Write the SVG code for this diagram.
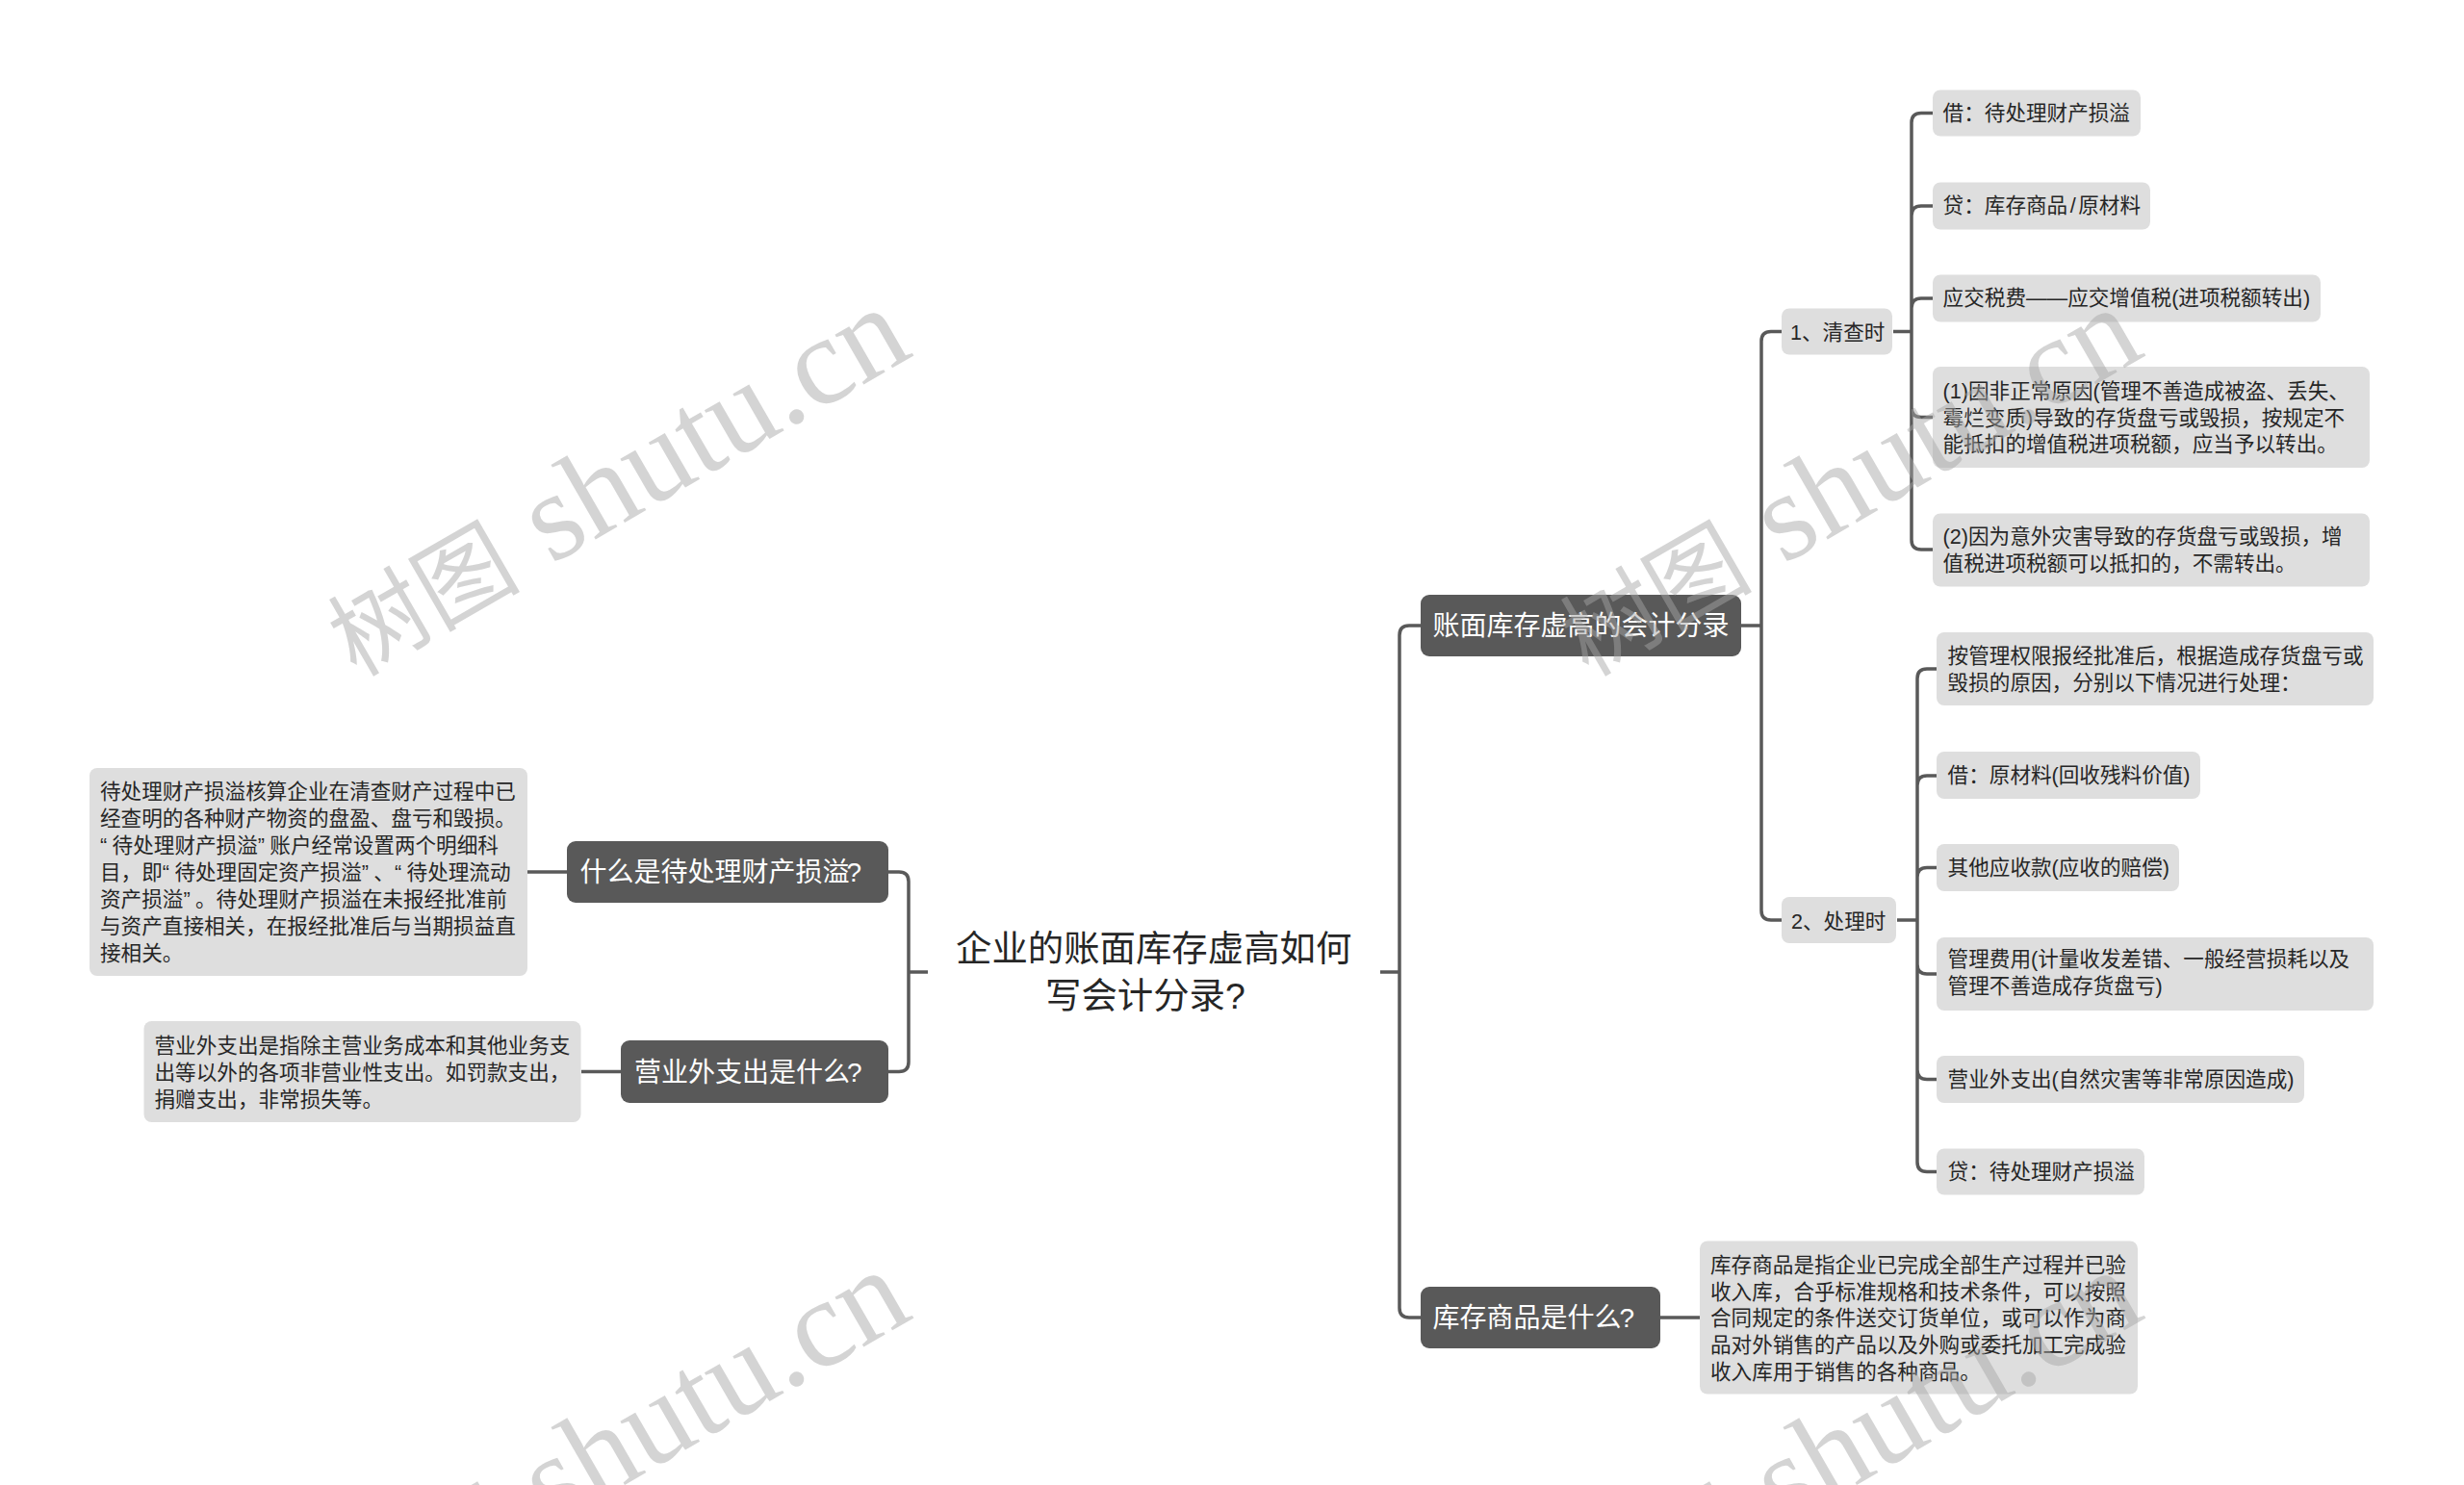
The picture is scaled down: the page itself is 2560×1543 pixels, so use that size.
<svg xmlns="http://www.w3.org/2000/svg" width="2560" height="1543" viewBox="0 0 2560 1543">
<style>
text{font-family:"Liberation Sans","Noto Sans CJK SC",sans-serif}
.leaf rect{fill:#dedede}
.topic rect{fill:#595959}
.leaf text{font-size:21.6px;fill:#262626;transform:translateY(-1px)}
.topic text{font-size:28px;fill:#fff}
.root text{font-size:37.4px;fill:#262626}
.q{letter-spacing:5.4px}
#connectors path{fill:none;stroke:#595959;stroke-width:3.5}
.wm{font-family:"Liberation Serif","Noto Sans CJK SC",serif;font-size:130px;fill:#a6a6a6;fill-opacity:.48}
.wm .c{font-size:100px}
</style>
<rect width="2560" height="1543" fill="#fff"/>
<g id="connectors">
<path d="M1434 1010H1454M1476 650H1464Q1454 650 1454 660V1359Q1454 1369 1464 1369H1476"/>
<path d="M1809 650H1830M1851 344.5H1840Q1830 344.5 1830 354.5V946Q1830 956 1840 956H1851"/>
<path d="M1967 344.5H1986M2008 117.5H1996Q1986 117.5 1986 127.5V561Q1986 571 1996 571H2008M2008 214H1996Q1986 214 1986 224M2008 310H1996Q1986 310 1986 320M2008 433.5H1996Q1986 433.5 1986 423.5"/>
<path d="M1971 956H1992M2012 695H2002Q1992 695 1992 705V1207.5Q1992 1217.5 2002 1217.5H2012M2012 806H2002Q1992 806 1992 816M2012 901.5H2002Q1992 901.5 1992 911.5M2012 1012H2002Q1992 1012 1992 1002M2012 1121.5H2002Q1992 1121.5 1992 1111.5"/>
<path d="M1725 1369H1766"/>
<path d="M589 906H548M645 1113.5H604"/>
<path d="M964 1010H944M923 906H934Q944 906 944 916V1103.5Q944 1113.5 934 1113.5H923"/>
</g>
<g id="root" class="root"><text x="993" y="999">企业的账面库存虚高如何</text><text x="1086" y="1048">写会计分录?</text></g>
<g id="n1" class="topic"><rect x="1476" y="618" width="333" height="64" rx="9"/><text x="1488.6" y="660">账面库存虚高的会计分录</text></g>
<g id="n2" class="topic"><rect x="1476" y="1337" width="249" height="64" rx="9"/><text x="1488.6" y="1379">库存商品是什么<tspan dx="-2">?</tspan></text></g>
<g id="n3" class="topic"><rect x="589" y="874" width="334" height="64" rx="9"/><text x="602.6" y="916">什么是待处理财产损溢<tspan dx="-3">?</tspan></text></g>
<g id="n4" class="topic"><rect x="645" y="1081" width="278" height="65" rx="9"/><text x="659" y="1123.5">营业外支出是什么<tspan dx="-3">?</tspan></text></g>
<g id="n5" class="leaf"><rect x="1851" y="320.5" width="115" height="48" rx="8"/><text x="1860" y="353.5">1、清查时</text></g>
<g id="n6" class="leaf"><rect x="1851" y="932" width="119" height="48" rx="8"/><text x="1861" y="965.5">2、处理时</text></g>
<g id="n7" class="leaf"><rect x="2008" y="93.5" width="216" height="48" rx="8"/><text x="2018.6" y="125.5">借：待处理财产损溢</text></g>
<g id="n8" class="leaf"><rect x="2008" y="189.5" width="226" height="49" rx="8"/><text x="2018.6" y="222">贷：库存商品<tspan dx="2.5">/</tspan><tspan dx="2.5">原</tspan>材料</text></g>
<g id="n9" class="leaf"><rect x="2008" y="285.5" width="403" height="49" rx="8"/><text x="2018.6" y="318">应交税费——应交增值税(进项税额转出)</text></g>
<g id="n10" class="leaf"><rect x="2008" y="381" width="454" height="105" rx="8"/><text x="2018.6" y="415">(1)因非正常原因(管理不善造成被盗、丢失、</text><text x="2018.6" y="442.7">霉烂变质)导致的存货盘亏或毁损，按规定不</text><text x="2018.6" y="470.4">能抵扣的增值税进项税额，应当予以转出。</text></g>
<g id="n11" class="leaf"><rect x="2008" y="533.5" width="454" height="76" rx="8"/><text x="2018.6" y="566">(2)因为意外灾害导致的存货盘亏或毁损，增</text><text x="2018.6" y="594">值税进项税额可以抵扣的，不需转出。</text></g>
<g id="n12" class="leaf"><rect x="2012" y="657" width="454" height="76" rx="8"/><text x="2023.6" y="690">按管理权限报经批准后，根据造成存货盘亏或</text><text x="2023.6" y="717.5">毁损的原因，分别以下情况进行处理：</text></g>
<g id="n13" class="leaf"><rect x="2012" y="781" width="274" height="49" rx="8"/><text x="2023.6" y="813.5">借：原材料(回收残料价值)</text></g>
<g id="n14" class="leaf"><rect x="2012" y="877" width="252" height="49" rx="8"/><text x="2023.6" y="909.5">其他应收款(应收的赔偿)</text></g>
<g id="n15" class="leaf"><rect x="2012" y="974" width="454" height="76" rx="8"/><text x="2023.6" y="1005">管理费用(计量收发差错、一般经营损耗以及</text><text x="2023.6" y="1033">管理不善造成存货盘亏)</text></g>
<g id="n16" class="leaf"><rect x="2012" y="1097" width="382" height="49" rx="8"/><text x="2023.6" y="1129.5">营业外支出(自然灾害等非常原因造成)</text></g>
<g id="n17" class="leaf"><rect x="2012" y="1193.5" width="216" height="48" rx="8"/><text x="2023.6" y="1225.5">贷：待处理财产损溢</text></g>
<g id="n18" class="leaf"><rect x="1766" y="1289.5" width="455" height="159" rx="8"/><text x="1777" y="1322.5">库存商品是指企业已完成全部生产过程并已验</text><text x="1777" y="1350.5">收入库，合乎标准规格和技术条件，可以按照</text><text x="1777" y="1378">合同规定的条件送交订货单位，或可以作为商</text><text x="1777" y="1405.7">品对外销售的产品以及外购或委托加工完成验</text><text x="1777" y="1433.7">收入库用于销售的各种商品。</text></g>
<g id="n19" class="leaf"><rect x="93" y="798" width="455" height="216" rx="8"/><text x="104" y="830.7">待处理财产损溢核算企业在清查财产过程中已</text><text x="104" y="858.7">经查明的各种财产物资的盘盈、盘亏和毁损。</text><text x="104" y="886.7"><tspan class="q">“</tspan>待处理财产损溢<tspan class="q">”</tspan>账户经常设置两个明细科</text><text x="104" y="914.7">目，即<tspan class="q">“</tspan>待处理固定资产损溢<tspan class="q">”</tspan>、<tspan class="q">“</tspan>待处理流动</text><text x="104" y="942.7">资产损溢<tspan class="q">”</tspan>。待处理财产损溢在未报经批准前</text><text x="104" y="970.7">与资产直接相关，在报经批准后与当期损益直</text><text x="104" y="998.7">接相关。</text></g>
<g id="n20" class="leaf"><rect x="149.5" y="1061" width="454" height="105" rx="8"/><text x="160.5" y="1094.7">营业外支出是指除主营业务成本和其他业务支</text><text x="160.5" y="1122.7">出等以外的各项非营业性支出。如罚款支出，</text><text x="160.5" y="1150.7">捐赠支出，非常损失等。</text></g>
<g id="watermarks">
<text class="wm" transform="translate(370 704) rotate(-30)"><tspan class="c">树图</tspan><tspan dx="34">shutu.cn</tspan></text>
<text class="wm" transform="translate(1650 704) rotate(-30)"><tspan class="c">树图</tspan><tspan dx="34">shutu.cn</tspan></text>
<text class="wm" transform="translate(370 1704) rotate(-30)"><tspan class="c">树图</tspan><tspan dx="34">shutu.cn</tspan></text>
<text class="wm" transform="translate(1650 1704) rotate(-30)"><tspan class="c">树图</tspan><tspan dx="34">shutu.cn</tspan></text>
</g>
</svg>
